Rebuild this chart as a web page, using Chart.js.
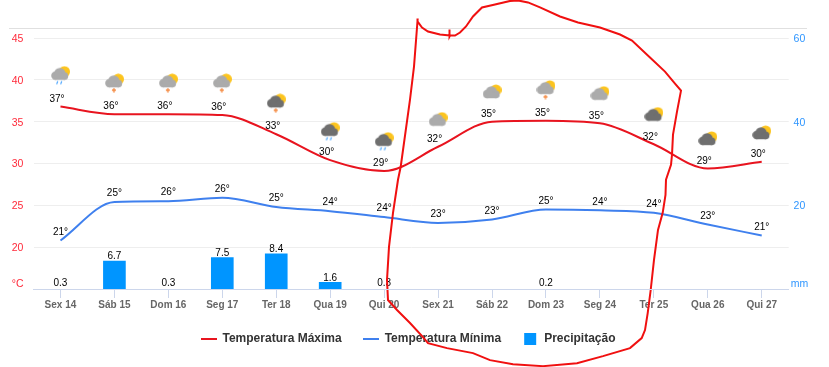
<!DOCTYPE html>
<html><head><meta charset="utf-8">
<style>
html,body{margin:0;padding:0;background:#fff;overflow:hidden}
#wrap{position:relative;width:829px;height:367px}
#rule{position:absolute;left:9px;top:28px;width:798px;height:1px;background:#e0e0e0}
canvas{position:absolute;left:0;top:0}
</style>
<script src="https://cdn.jsdelivr.net/npm/chart.js@4"></script>
</head><body>
<div id="wrap"><div id="rule"></div><canvas id="c" width="829" height="367"></canvas></div>
<script>
const categories=["Sex 14","Sáb 15","Dom 16","Seg 17","Ter 18","Qua 19","Qui 20","Sex 21","Sáb 22","Dom 23","Seg 24","Ter 25","Qua 26","Qui 27"];
const tempMax=[36.8,35.9,35.9,35.8,33.5,30.4,29.1,32.0,35.0,35.1,34.8,32.3,29.4,30.2];
const tempMin=[20.8,25.4,25.5,25.9,24.8,24.3,23.6,22.9,23.3,24.5,24.4,24.1,22.7,21.4];
const rain=[0.3,6.7,0.3,7.5,8.4,1.6,0.3,null,null,0.2,null,null,null,null];
const maxLabels=["37°","36°","36°","36°","33°","30°","29°","32°","35°","35°","35°","32°","29°","30°"];
const minLabels=["21°","25°","26°","26°","25°","24°","24°","23°","23°","25°","24°","24°","23°","21°"];
const rainLabels=["0.3","6.7","0.3","7.5","8.4","1.6","0.3","","","0.2","","","",""];
const iconLevels=[40.5,39.6,39.6,39.6,37.2,33.8,32.6,35.0,38.3,38.8,38.1,35.6,32.7,33.4];
const iconKinds=["rainL","boltL","boltL","boltL","boltD","rainD","rainD","plainL","plainL","boltL","plainL","plainD","plainD","plainD"];
const handDrawn=[[449.5,30],[449.5,37],[450,36],[455,36],[460,33],[466,27],[473,17],[482,8],[495,5],[510,1.5],[518,1],[528,3],[540,8],[560,17],[578,23],[600,28],[620,35],[632,41],[650,58],[665,72],[675,84],[681,91],[677,112],[673,135],[672,155],[671,165],[666,180],[665.5,195],[662.7,213],[658,230],[654,260],[650.7,290],[647.7,313],[645,330],[641.7,338],[630,348],[603,356],[577,363],[543,366],[513,364],[490,360],[473,353],[447,348],[428,343],[423,337],[410,323],[397,310],[388,300],[387,280],[389,247],[393,213],[398,180],[400.7,167],[410,100],[414,67],[417.7,19],[417.5,22],[422,28],[428,32],[440,35],[450,36]];

function makeIcon(kind){
  const c=document.createElement('canvas');c.width=19;c.height=20;
  const g=c.getContext('2d');
  g.fillStyle='#fcc41e';g.beginPath();g.arc(13.4,6,5.6,0,7);g.fill();
  g.fillStyle=kind.endsWith('D')?'#6f6f6f':'#ababab';
  g.beginPath();g.arc(4.4,10,4.2,0,7);g.fill();
  g.beginPath();g.arc(8.8,7.8,5.6,0,7);g.fill();
  g.beginPath();g.arc(13.4,10.4,3.8,0,7);g.fill();
  g.fillRect(4,9,10,5.2);
  if(kind.startsWith('rain')){
    g.strokeStyle='#4fa8ff';g.lineWidth=1.2;
    [[6,15.5],[10,15.5]].forEach(p=>{g.beginPath();g.moveTo(p[0]+.8,p[1]);g.lineTo(p[0]-.4,p[1]+3);g.stroke();});
  }
  if(kind.startsWith('bolt')){
    g.strokeStyle='#f58a42';g.lineWidth=1.3;
    g.beginPath();g.moveTo(9,15);g.lineTo(9,19.5);g.moveTo(7,17);g.lineTo(11,17);g.stroke();
  }
  return c;
}
function legendMark(color,square){
  const c=document.createElement('canvas');c.width=16;c.height=square?12:2;
  const g=c.getContext('2d');g.fillStyle=color;
  if(square)g.fillRect(2,0,12,12);else g.fillRect(0,0,16,2);
  return c;
}
const RED='#e8141f',BLUE='#3f80ee',BAR='#0095ff';
const labelFont='10px "Liberation Sans"';
const faintRain=0.5;
const axisFont=ctx=>{const low=ctx.tick&&(ctx.tick.value===15||ctx.tick.value===0);
  return {family:'"Liberation Sans"',size:10.5,lineHeight:low?'9px':'2px'};};

function drawLabels(chart){
  const g=chart.ctx;g.save();g.font=labelFont;g.fillStyle='#000';g.textAlign='center';g.textBaseline='middle';
  const put=(idx,texts,dx,dy)=>{chart.getDatasetMeta(idx).data.forEach((p,i)=>{if(texts[i])g.fillText(texts[i],p.x+dx,p.y+dy);});};
  put(0,maxLabels,-3.5,-7.5);
  put(1,minLabels,0,-8.5);
  const m=chart.getDatasetMeta(2);
  m.data.forEach((p,i)=>{if(rainLabels[i]){const y=chart.scales.yRain.getPixelForValue(rain[i]);g.fillText(rainLabels[i],p.x,y-4.5);}});
  g.restore();
}
const labelPlugin={id:'valueLabels',beforeDatasetDraw(chart,args){if(args.index===4)drawLabels(chart);}};

new Chart(document.getElementById('c'),{
  type:'bar',
  data:{labels:categories,datasets:[
    {type:'line',label:'Temperatura Máxima',data:tempMax,borderColor:RED,backgroundColor:RED,borderWidth:2,pointRadius:0,cubicInterpolationMode:'monotone',yAxisID:'yTemp',xAxisID:'x',order:2},
    {type:'line',label:'Temperatura Mínima',data:tempMin,borderColor:BLUE,backgroundColor:BLUE,borderWidth:2,pointRadius:0,cubicInterpolationMode:'monotone',yAxisID:'yTemp',xAxisID:'x',order:3},
    {type:'bar',label:'Precipitação',data:rain,grouped:false,backgroundColor:c=>c.raw<faintRain?'rgba(0,0,0,0)':BAR,barThickness:22,yAxisID:'yRain',xAxisID:'x',order:4},
    {type:'line',label:'Tempo',data:iconLevels,showLine:false,pointStyle:iconKinds.map(makeIcon),pointRadius:5,yAxisID:'yTemp',xAxisID:'x',order:1},
    {type:'scatter',label:'Anotação',data:handDrawn.map(p=>({x:p[0],y:p[1]})),showLine:true,borderColor:'#f01010',borderWidth:2,pointRadius:0,tension:0,clip:false,xAxisID:'inkX',yAxisID:'inkY',order:0}
  ]},
  plugins:[labelPlugin],
  options:{
    responsive:false,animation:false,events:[],
    layout:{padding:{top:38,right:13,left:0,bottom:12}},
    scales:{
      x:{type:'category',offset:true,position:'bottom',
        grid:{offset:false,drawOnChartArea:false,drawTicks:true,tickLength:9,tickColor:'#ccd6eb',tickWidth:1},
        border:{color:'#ccd6eb',z:1},
        ticks:{color:'#666',font:{family:'"Liberation Sans"',size:10,weight:'bold'},padding:1,maxRotation:0,autoSkip:false},
        afterFit(s){s.height=23;}},
      yTemp:{type:'linear',position:'left',min:15,max:45,
        grid:{color:'#eeeeee',drawTicks:false},border:{display:false},
        afterBuildTicks(s){s.ticks=[15,20,25,30,35,40,45].map(v=>({value:v}));},
        ticks:{color:'#ff2a3a',font:axisFont,padding:10,crossAlign:'center',
          callback:v=>v===15?['°C','']:['',String(v)]},
        afterFit(s){s.width=33.5;}},
      yRain:{type:'linear',position:'right',min:0,max:60,
        grid:{display:false,drawTicks:false},border:{display:false},
        afterBuildTicks(s){s.ticks=[0,20,40,60].map(v=>({value:v}));},
        ticks:{color:'#2f96ff',font:axisFont,padding:2,crossAlign:'near',
          callback:v=>v===0?['mm','']:['',' '+v]},
        afterFit(s){s.width=27.3;}},
      inkX:{type:'linear',display:false,offset:false,min:33.5,max:788.7},
      inkY:{type:'linear',display:false,min:38.5,max:289,reverse:true}
    },
    plugins:{
      tooltip:{enabled:false},
      legend:{display:true,position:'bottom',align:'center',
        labels:{usePointStyle:true,pointStyleWidth:16,padding:21,color:'#333',
          font:{family:'"Liberation Sans"',size:12,weight:'bold'},
          generateLabels(){return [
            {text:'Temperatura Máxima',pointStyle:legendMark(RED,false),fontColor:'#333',lineWidth:0,strokeStyle:'transparent',fillStyle:RED,datasetIndex:0},
            {text:'Temperatura Mínima',pointStyle:legendMark(BLUE,false),fontColor:'#333',lineWidth:0,strokeStyle:'transparent',fillStyle:BLUE,datasetIndex:1},
            {text:'Precipitação',pointStyle:legendMark(BAR,true),fontColor:'#333',lineWidth:0,strokeStyle:'transparent',fillStyle:BAR,datasetIndex:2}
          ];}
        }
      }
    }
  }
});
</script>
</body></html>
